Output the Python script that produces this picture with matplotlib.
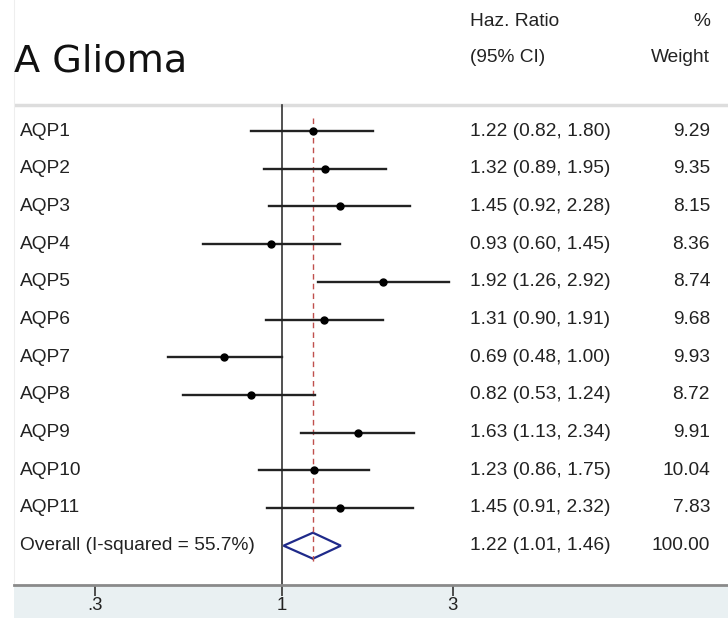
import numpy as np
import matplotlib
matplotlib.use('Agg')
import matplotlib.pyplot as plt
from matplotlib.patches import Polygon

labels = ['AQP1', 'AQP2', 'AQP3', 'AQP4', 'AQP5', 'AQP6',
          'AQP7', 'AQP8', 'AQP9', 'AQP10', 'AQP11']
hr = [1.22, 1.32, 1.45, 0.93, 1.92, 1.31, 0.69, 0.82, 1.63, 1.23, 1.45]
lo = [0.82, 0.89, 0.92, 0.60, 1.26, 0.90, 0.48, 0.53, 1.13, 0.86, 0.91]
hi = [1.80, 1.95, 2.28, 1.45, 2.92, 1.91, 1.00, 1.24, 2.34, 1.75, 2.32]
weight = [9.29, 9.35, 8.15, 8.36, 8.74, 9.68, 9.93, 8.72, 9.91, 10.04, 7.83]

overall_label = 'Overall (I-squared = 55.7%)'
overall = (1.22, 1.01, 1.46)
overall_weight = 100.00

W, H = 728, 618
FS = 13.8
plt.rcParams['font.family'] = ['Liberation Sans', 'DejaVu Sans']
fig = plt.figure(figsize=(W / 100, H / 100), dpi=100)

bottom_px = 585
# band under the axis (own axes, drawn first)
band = fig.add_axes([14 / W, 0, (W - 14) / W, (H - bottom_px) / H], zorder=0)
band.set_facecolor('#e9f0f2')
band.set_xticks([])
band.set_yticks([])
for s in band.spines.values():
    s.set_visible(False)

# main panel: pixel rows on y, log hazard ratio on x
ax = fig.add_axes([14 / W, (H - bottom_px) / H, (W - 14) / W, bottom_px / H], zorder=1)
ax.patch.set_alpha(0)
ax.set_xscale('log')
x0 = 10 ** ((14 - 282) / 358)
x1 = 10 ** ((W - 282) / 358)
ax.set_xlim(x0, x1)
ax.set_ylim(bottom_px, 0)
for s in ['top', 'right']:
    ax.spines[s].set_visible(False)
ax.spines['left'].set_color('#eeeeee')
ax.spines['bottom'].set_color('#8a8a8a')
ax.spines['bottom'].set_linewidth(2)
ax.set_yticks([])
ax.set_xticks([0.3, 1, 3])
ax.set_xticklabels(['.3', '1', '3'])
ax.xaxis.set_minor_locator(matplotlib.ticker.NullLocator())
ax.tick_params(axis='x', direction='out', length=8, width=1.2, color='#333333',
               labelsize=13.3, labelcolor='#222222', pad=1)


def fx(px):
    return (px - 14) / (W - 14)


tx = ax.get_yaxis_transform()  # x in axes fraction, y in data

# header
ax.text(fx(14), 62, 'A Glioma', transform=tx, fontsize=27.5, va='center',
        family=['DejaVu Sans'], color='#111111')
ax.text(fx(470), 22, 'Haz. Ratio', transform=tx, fontsize=FS, va='center', color='#222222')
ax.text(fx(470), 58, '(95% CI)', transform=tx, fontsize=FS, va='center', color='#222222')
ax.text(fx(710), 22, '%', transform=tx, fontsize=FS, va='center', ha='right', color='#222222')
ax.text(fx(710), 58, 'Weight', transform=tx, fontsize=FS, va='center', ha='right', color='#222222')
ax.axhline(105, color='#dddddd', lw=2.5)

rows = [131 + i * 37.7 for i in range(len(labels) + 1)]

ax.plot([1, 1], [105, bottom_px], color='#333333', lw=1.2)
ax.plot([overall[0], overall[0]], [118, 565], color='#c0504d', lw=1, ls=(0, (4, 3)))

for i, lab in enumerate(labels):
    y = rows[i]
    ax.plot([lo[i], hi[i]], [y, y], color='#222222', lw=1.7)
    ax.plot(hr[i], y, marker='o', ms=5, color='black')
    ax.text(fx(20), y, lab, transform=tx, fontsize=FS, va='center', color='#222222')
    ax.text(fx(470), y, f'{hr[i]:.2f} ({lo[i]:.2f}, {hi[i]:.2f})', transform=tx,
            fontsize=FS, va='center', color='#222222')
    ax.text(fx(710), y, f'{weight[i]:.2f}', transform=tx, fontsize=FS,
            va='center', ha='right', color='#222222')

yo = rows[-1]
est, l, h = overall
ax.add_patch(Polygon([[l, yo], [est, yo - 13], [h, yo], [est, yo + 13]],
                     closed=True, fill=False, edgecolor='#1f2a8a', lw=1.6))
ax.text(fx(20), yo, overall_label, transform=tx, fontsize=FS, va='center', color='#222222')
ax.text(fx(470), yo, f'{est:.2f} ({l:.2f}, {h:.2f})', transform=tx,
        fontsize=FS, va='center', color='#222222')
ax.text(fx(710), yo, f'{overall_weight:.2f}', transform=tx, fontsize=FS,
        va='center', ha='right', color='#222222')

fig.savefig('out.png', dpi=100)
